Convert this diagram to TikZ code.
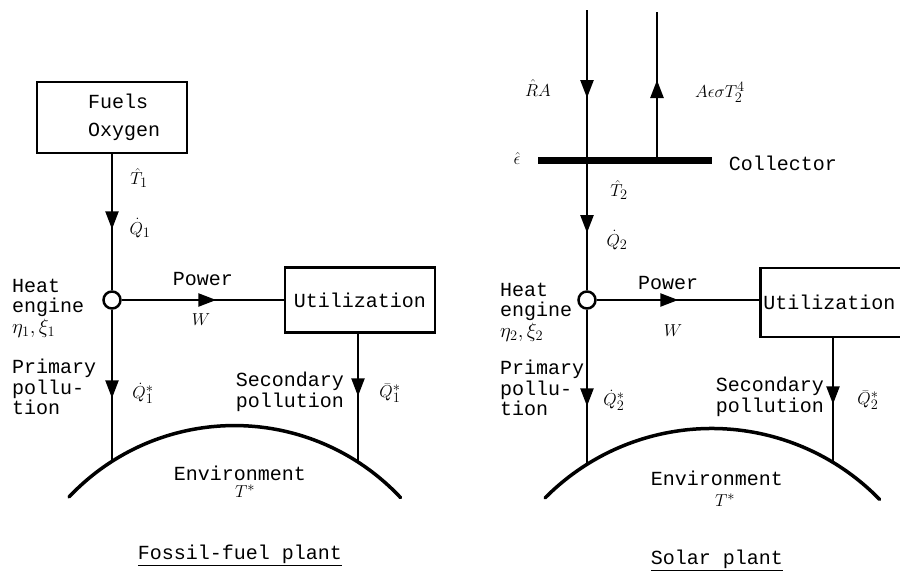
\documentclass[tikz,border=0pt]{standalone}
\usepackage{fontspec}
\setmainfont{Liberation Mono}
\usetikzlibrary{arrows.meta,decorations.markings}
\begin{document}
\begin{tikzpicture}[x=1pt,y=-1pt,
  every node/.style={font=\fontsize{20}{20.5}\selectfont, inner sep=0pt},
  conn/.style={line width=2.5pt},
  box/.style={draw, line width=2.5pt, rectangle},
  engine/.style={draw, circle, line width=2.5pt, minimum size=17pt, fill=white},
  lab/.style={font=\fontsize{19}{19}\selectfont},
  ground/.style={line width=3.5pt, line cap=round},
  arrowat/.style={postaction={decorate, decoration={markings, mark=at position #1 with {\arrow{Triangle[length=18pt,width=13pt]}}}}},
]
\useasboundingbox (0,0) rectangle (900,573);

% ---------------- Fossil-fuel plant ----------------
\node[box, minimum width=150pt, minimum height=71pt] (fuel) at (112,117.5) {};
\node[anchor=west, align=left] (fueltxt) at (88,117.5) {Fuels\\[8pt]Oxygen};
\node[engine] (he1) at (112,300) {};
\node[box, minimum width=150pt, minimum height=65pt] (util1) at (360,300) {Utilization};
\coordinate (e1) at (112,461.4);
\coordinate (e2) at (358,462);

\draw[conn, arrowat=75pt] (fuel.south -| he1) -- (he1);
\draw[conn, arrowat=88.5pt] (he1) -- (e1);
\draw[conn, arrowat=94.5pt] (he1) -- (util1.west |- he1);
\draw[conn, arrowat=62.5pt] (util1.south -| e2) -- (e2);
\draw[ground] (69,497) arc[start angle=-136.7, end angle=-43.1, radius=227.4];

\node[lab] (t1) at (139,178) {$\hat{T}_1$};
\node[lab] (q1) at (140,228) {$\dot{Q}_1$};
\node[anchor=west, align=left] (heat1) at (12,308) {Heat\\engine\\$\eta_1,\xi_1$};
\node[anchor=west, align=left] (prim1) at (12,387) {Primary\\pollu-\\tion};
\node[anchor=east, align=right] (sec1) at (344,392) {Secondary\\pollution};
\node (pow1) at (203,279) {Power};
\node[lab] (w1) at (201,320) {$W$};
\node[lab] (qs1) at (143,393) {$\dot{Q}_1^*$};
\node[lab] (qb1) at (390,393) {$\bar{Q}_1^*$};
\node (env1) at (240,473) {Environment};
\node[lab] (ts1) at (245,491) {$T^*$};
\node (title1) at (240,555) {\underline{Fossil-fuel plant}};

% ---------------- Solar plant ----------------
\coordinate (top1) at (587,10);
\coordinate (top2) at (657,12);
\coordinate (colL) at (538,160);
\coordinate (colR) at (712,160);
\coordinate (colU) at (657,160);
\node[engine] (he2) at (587,300) {};
\node[box, anchor=west, inner xsep=3pt, text width=144pt, align=left, minimum height=69pt] (util2) at (759,302.5) {Utilization};
\coordinate (e3) at (587,465.5);
\coordinate (e4) at (833,463);

\draw[line width=7pt] (colL) -- (colR);
\draw[conn, arrowat=88pt, arrowat=223pt] (top1) -- (he2);
\draw[conn, arrowat=80pt] (colU) -- (top2);
\draw[conn, arrowat=96.5pt] (he2) -- (e3);
\draw[conn, arrowat=81.5pt] (he2) -- (util2.west |- he2);
\draw[conn, arrowat=66pt] (util2.south -| e4) -- (e4);
\draw[ground] (545,498) arc[start angle=-135.3, end angle=-44.2, radius=234.4];

\node[lab] (ra) at (538,88) {$\hat{R}A$};
\node[lab] (emit) at (720,92) {$A\epsilon\sigma T_2^4$};
\node[lab] (eps) at (517,158) {$\hat{\epsilon}$};
\node (coll) at (783,163) {Collector};
\node[lab] (t2) at (619,190) {$\hat{T}_2$};
\node[lab] (q2) at (617,240) {$\dot{Q}_2$};
\node[anchor=west, align=left] (heat2) at (500,312) {Heat\\engine\\$\eta_2,\xi_2$};
\node[anchor=west, align=left] (prim2) at (500,388) {Primary\\pollu-\\tion};
\node[anchor=east, align=right] (sec2) at (824,397) {Secondary\\pollution};
\node (pow2) at (668,283) {Power};
\node[lab] (w2) at (673,331) {$W$};
\node[lab] (qs2) at (614,400) {$\dot{Q}_2^*$};
\node[lab] (qb2) at (868,400) {$\bar{Q}_2^*$};
\node (env2) at (717,478) {Environment};
\node[lab] (ts2) at (725,500) {$T^*$};
\node (title2) at (717,560) {\underline{Solar plant}};
\end{tikzpicture}
\end{document}
